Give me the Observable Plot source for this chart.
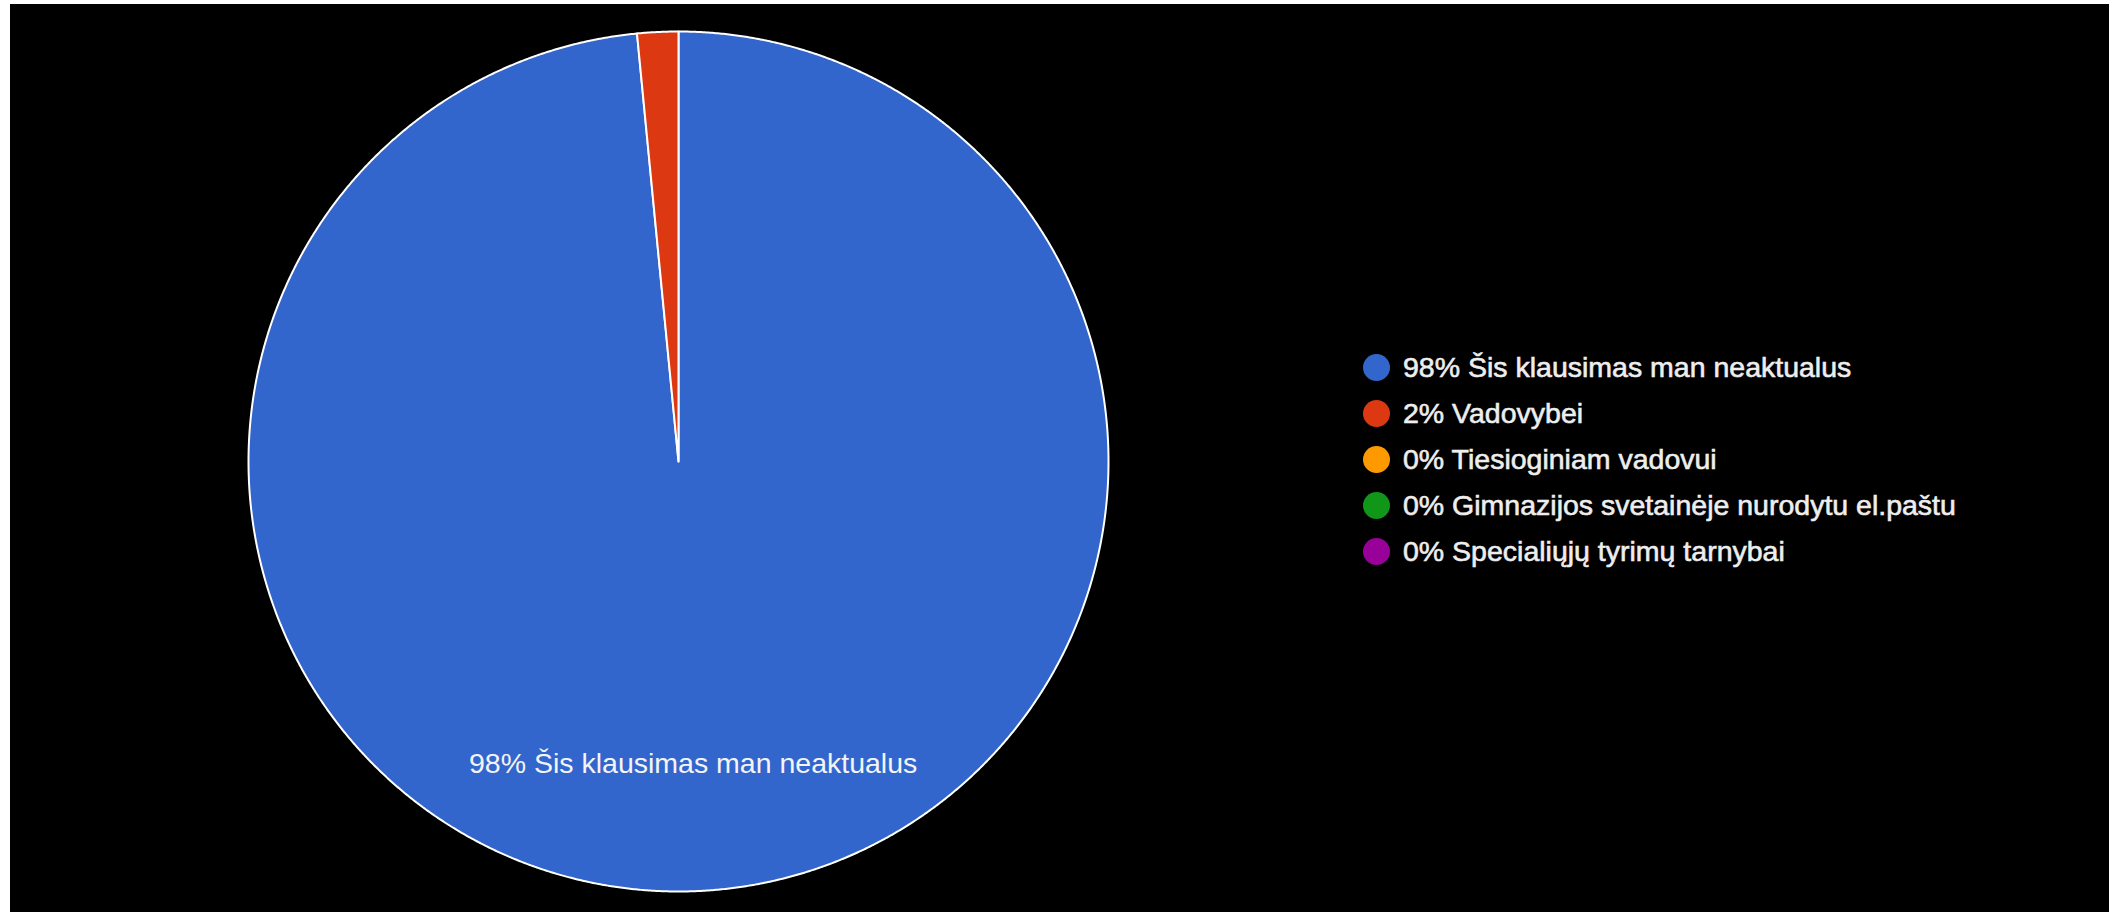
<!DOCTYPE html>
<html>
<head>
<meta charset="utf-8">
<script src="https://cdn.jsdelivr.net/npm/d3@7"></script>
<script src="https://cdn.jsdelivr.net/npm/@observablehq/plot@0.6"></script>
<style>
  html, body { margin: 0; padding: 0; background: #fff; }
  #wrap { position: absolute; left: 10px; top: 4px; width: 2099px; height: 908px; background: #000; overflow: hidden; }
  #chart { position: absolute; left: 0; top: 0; }
  #legend { position: absolute; left: 1353px; top: 341px; font-family: Arial, "Liberation Sans", sans-serif; font-size: 28.5px; color: #eeeeee; -webkit-text-stroke: 0.6px #eeeeee; }
  .row { display: flex; align-items: center; height: 45.8px; white-space: nowrap; }
  .sw { width: 27px; height: 27px; border-radius: 50%; margin-right: 13px; flex: none; }
</style>
</head>
<body>
<div id="wrap">
  <div id="chart"></div>
  <div id="legend"></div>
</div>
<script>
// ---- data ----
const categories = [
  "Šis klausimas man neaktualus",
  "Vadovybei",
  "Tiesioginiam vadovui",
  "Gimnazijos svetainėje nurodytu el.paštu",
  "Specialiųjų tyrimų tarnybai"
];
const counts = [64, 1, 0, 0, 0];
const colors = ["#3366cc", "#dc3912", "#ff9900", "#109618", "#990099"];

// ---- derived ----
const total = d3.sum(counts);
const pct = counts.map(c => Math.round(100 * c / total));
const labels = categories.map((c, i) => `${pct[i]}% ${c}`);

// Google-style pie: start at 12 o'clock, clockwise
const poly = [];
const centers = [];
let acc = 0;
categories.forEach((cat, i) => {
  const v = counts[i];
  if (v <= 0) return;
  const a0 = acc / total * 2 * Math.PI;
  acc += v;
  const a1 = acc / total * 2 * Math.PI;
  const n = Math.max(2, Math.ceil((a1 - a0) / (Math.PI / 720)));
  poly.push({key: cat, x: 0, y: 0});
  for (let k = 0; k <= n; k++) {
    const a = a0 + (a1 - a0) * k / n;
    poly.push({key: cat, x: Math.sin(a), y: Math.cos(a)});
  }
  poly.push({key: cat, x: 0, y: 0});
  if (v / total > 0.05) {
    const m = (a0 + a1) / 2;
    centers.push({key: cat, label: labels[i], x: 0.705 * Math.sin(m), y: 0.705 * Math.cos(m)});
  }
});

// layout: pie centre at (668, 457) in the 2099x908 box, radius 430 px
const W = 2099, H = 908, R = 430, CX = 668, CY = 457;

const chart = Plot.plot({
  width: W,
  height: H,
  margin: 0,
  style: {background: "#000", fontFamily: "Arial, 'Liberation Sans', sans-serif"},
  x: {domain: [-CX / R, (W - CX) / R], axis: null},
  y: {domain: [-(H - CY) / R, CY / R], axis: null},
  color: {domain: categories, range: colors},
  marks: [
    Plot.line(poly, {x: "x", y: "y", z: "key", fill: "key", stroke: "#ffffff", strokeWidth: 2, strokeLinejoin: "round"}),
    Plot.text(centers, {x: "x", y: "y", text: "label", fill: "#f4f4f4", fontSize: 28.5, textAnchor: "middle"})
  ]
});
document.getElementById("chart").append(chart);

// legend
const lg = document.getElementById("legend");
categories.forEach((c, i) => {
  const row = document.createElement("div");
  row.className = "row";
  const sw = document.createElement("span");
  sw.className = "sw";
  sw.style.background = colors[i];
  const t = document.createElement("span");
  t.textContent = labels[i];
  row.append(sw, t);
  lg.append(row);
});
</script>
</body>
</html>
